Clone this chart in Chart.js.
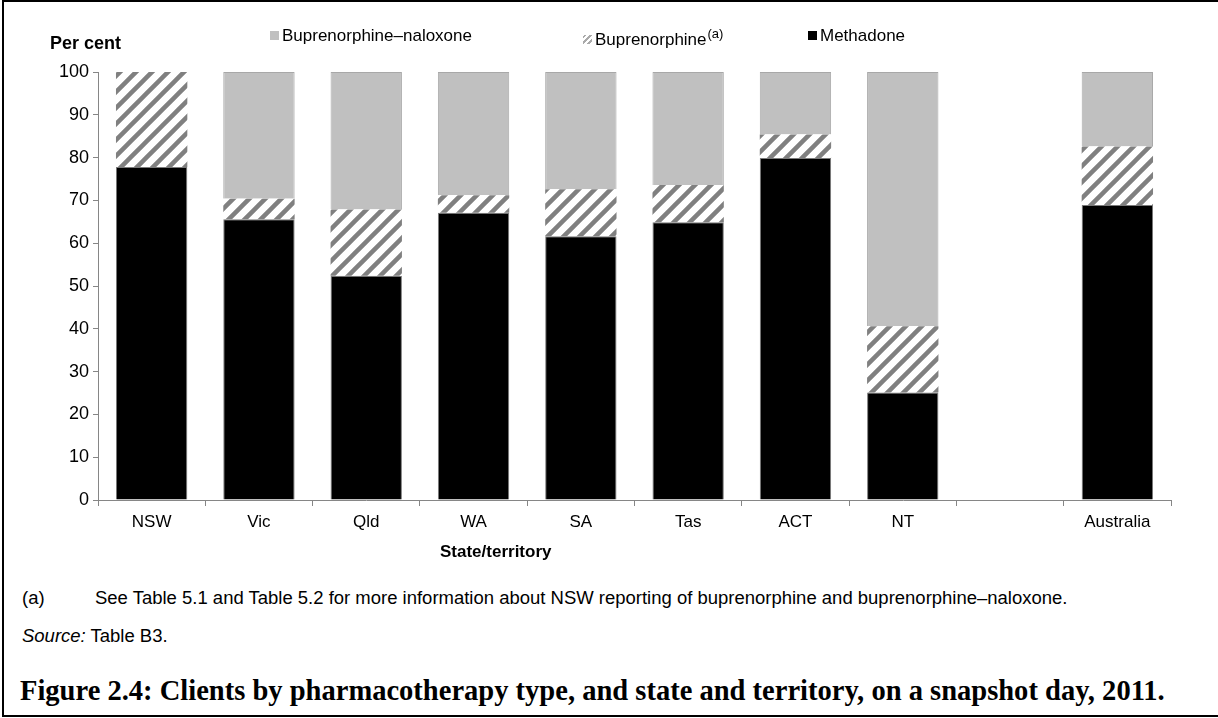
<!DOCTYPE html>
<html>
<head>
<meta charset="utf-8">
<script src="https://cdn.jsdelivr.net/npm/chart.js@4"></script>
<style>
  body { margin: 0; background: #fff; font-family: 'Liberation Sans', Arial, sans-serif; }
  #page { position: relative; width: 1218px; height: 718px; overflow: hidden; }
  #frame { position: absolute; left: 2px; top: 0; width: 1230px; height: 717px; border: 2px solid #000; box-sizing: border-box; }
  #chart { position: absolute; left: 0; top: 0; }
  .txt { position: absolute; white-space: nowrap; color: #000; }
  .note { font-size: 15px; }
  .sw { display: inline-block; width: 9px; height: 9px; margin-right: 3px; vertical-align: 1px; }
</style>
</head>
<body>
<div id="page">
  <div id="frame"></div>
  <canvas id="chart" width="1218" height="560"></canvas>
  <div class="txt" style="left:50px; top:33px; font-size:18px; font-weight:bold;">Per cent</div>
  <div class="txt" style="left:270px; top:26px; font-size:17px;"><span class="sw" style="background:#c0c0c0"></span>Buprenorphine–naloxone</div>
  <div class="txt" style="left:583px; top:26px; font-size:17px;"><span class="sw" style="background:repeating-linear-gradient(-45deg,#fff 0 2px,#aaa 2px 4px)"></span>Buprenorphine<sup style="font-size:13px; margin-left:1px">(a)</sup></div>
  <div class="txt" style="left:808px; top:26px; font-size:17px;"><span class="sw" style="background:#000"></span>Methadone</div>
  <div class="txt" style="left:440px; top:542px; font-size:17px; font-weight:bold;">State/territory</div>
  <div class="txt note" id="noteA" style="left:22px; top:587px;">(a)</div>
  <div class="txt note" id="note" style="left:95px; top:587px;">See Table 5.1 and Table 5.2 for more information about NSW reporting of buprenorphine and buprenorphine–naloxone.</div>
  <div class="txt note" id="source" style="left:22px; top:625px;"><i>Source:</i> Table B3.</div>
  <div class="txt" id="caption" style="left:20px; top:675px; font-size:26px; font-weight:bold; font-family:'Liberation Serif','DejaVu Serif',serif;">Figure 2.4: Clients by pharmacotherapy type, and state and territory, on a snapshot day, 2011.</div>
</div>
<script>
var states = ['NSW', 'Vic', 'Qld', 'WA', 'SA', 'Tas', 'ACT', 'NT', '', 'Australia']
var methadone = [77.8, 65.6, 52.4, 67.1, 61.6, 64.9, 79.9, 25.1, null, 68.9]
var buprenorphine = [22.2, 4.8, 15.5, 4.1, 11.0, 8.7, 5.5, 15.5, null, 13.7]
var bupNaloxone = [0, 29.6, 32.1, 28.8, 27.4, 26.4, 14.6, 59.4, null, 17.4]

// stretch text to the width it has in the picture
function fitWidth(id, target) {
    var el = document.getElementById(id)
    var size = parseFloat(getComputedStyle(el).fontSize)
    var newSize = size * target / el.offsetWidth
    el.style.fontSize = newSize + 'px'
    return newSize
}
var noteSize = fitWidth('note', 973)
document.getElementById('noteA').style.fontSize = noteSize + 'px'
document.getElementById('source').style.fontSize = noteSize + 'px'
fitWidth('caption', 1145)

// grey diagonal stripes for buprenorphine
var tile = document.createElement('canvas')
tile.width = 16
tile.height = 16
var t = tile.getContext('2d')
t.fillStyle = '#fff'
t.fillRect(0, 0, 16, 16)
t.strokeStyle = '#808080'
t.lineWidth = 4.5
t.beginPath()
t.moveTo(-8, 8); t.lineTo(8, -8)
t.moveTo(0, 16); t.lineTo(16, 0)
t.moveTo(8, 24); t.lineTo(24, 8)
t.stroke()
var hatch = document.createElement('canvas').getContext('2d').createPattern(tile, 'repeat')

var family = "'Liberation Sans', Arial, sans-serif"

new Chart(document.getElementById('chart'), {
    type: 'bar',
    data: {
        labels: states,
        datasets: [
            { label: 'Methadone', data: methadone, backgroundColor: '#000', borderColor: '#7a7a7a', borderWidth: 1 },
            { label: 'Buprenorphine', data: buprenorphine, backgroundColor: hatch, borderWidth: 0 },
            { label: 'Buprenorphine–naloxone', data: bupNaloxone, backgroundColor: '#c0c0c0', borderColor: '#a8a8a8', borderWidth: 1 }
        ]
    },
    options: {
        responsive: false,
        animation: false,
        devicePixelRatio: 1,
        layout: { padding: { left: 0, right: 47, top: 72, bottom: 0 } },
        plugins: { legend: { display: false }, tooltip: { enabled: false } },
        datasets: { bar: { barPercentage: 0.665, categoryPercentage: 1 } },
        scales: {
            x: {
                stacked: true,
                grid: { offset: true, drawOnChartArea: false, tickLength: 6, color: '#868686' },
                border: { color: '#868686' },
                ticks: { font: { family: family, size: 17 }, color: '#000', padding: 6 },
                afterFit: function (s) { s.height = 60 }
            },
            y: {
                stacked: true,
                min: 0,
                max: 100,
                ticks: { stepSize: 10, font: { family: family, size: 18 }, color: '#000', padding: 4 },
                grid: { drawOnChartArea: false, tickLength: 5, color: '#868686' },
                border: { color: '#868686' },
                afterFit: function (s) { s.width = 98 }
            }
        }
    }
})
</script>
</body>
</html>
